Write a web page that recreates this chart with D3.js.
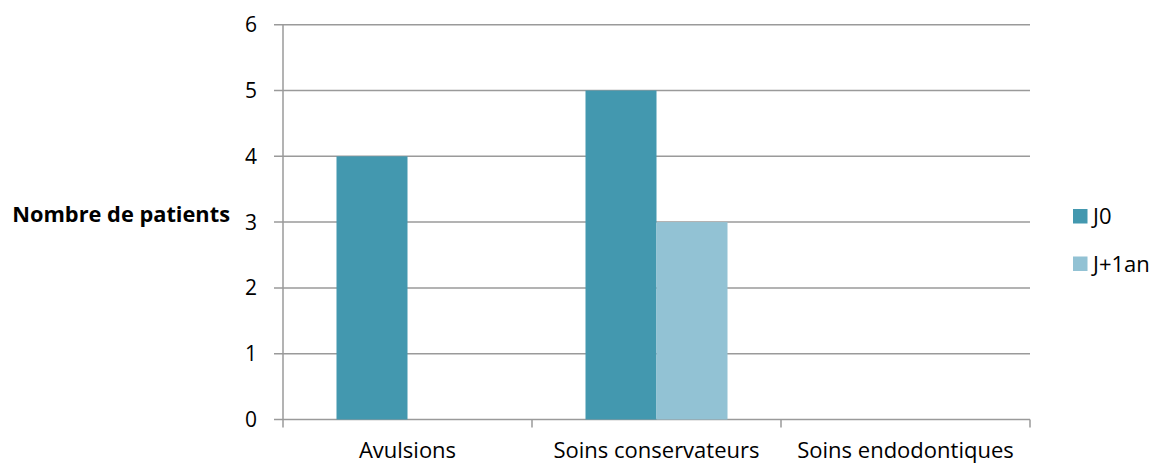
<!DOCTYPE html>
<html>
<head>
<meta charset="utf-8">
<script src="https://cdn.jsdelivr.net/npm/d3@7"></script>
<style>
  html, body { margin: 0; padding: 0; background: #fff; }
  svg { display: block; }
  text { font-family: "Open Sans", "Noto Sans", sans-serif; fill: #000; }
</style>
</head>
<body>
<svg id="chart" width="1158" height="464"></svg>
<script>
const categories = ["Avulsions", "Soins conservateurs", "Soins endodontiques"];
const seriesNames = ["J0", "J+1an"];
const valuesJ0 = [4, 5, 0];
const valuesJ1an = [0, 3, 0];
const yTicks = [0, 1, 2, 3, 4, 5, 6];
const colors = ["#4398AF", "#92C2D4"];
const yTitle = "Nombre de patients";

(function () {
const svg = d3.select("#chart");
const pLeft = 283, pRight = 1030, pTop = 24.7, pBottom = 419.5;

const x = d3.scaleBand().domain(categories).range([pLeft, pRight]).paddingInner(0).paddingOuter(0);
const inner = d3.scaleBand().domain(seriesNames).range([53.5, x.bandwidth() - 53.5]);
const y = d3.scaleLinear().domain([0, 6]).range([pBottom, pTop]);

const gridColor = "#9a9a9a";

// gridlines
svg.append("g").selectAll("line").data(yTicks).join("line")
  .attr("x1", pLeft - 9).attr("x2", pRight)
  .attr("y1", d => y(d)).attr("y2", d => y(d))
  .attr("stroke", gridColor).attr("stroke-width", 1.5);

// y axis line
svg.append("line").attr("x1", pLeft).attr("x2", pLeft).attr("y1", pTop).attr("y2", pBottom + 8)
  .attr("stroke", gridColor).attr("stroke-width", 1.5);

// x category ticks
const xTickPos = categories.map(c => x(c)).concat([pRight]);
svg.append("g").selectAll("line").data(xTickPos.slice(1)).join("line")
  .attr("x1", d => d).attr("x2", d => d).attr("y1", pBottom).attr("y2", pBottom + 8)
  .attr("stroke", gridColor).attr("stroke-width", 1.5);

// bars
const data = categories.map((c, i) => ({ cat: c, vals: [valuesJ0[i], valuesJ1an[i]] }));
const groups = svg.append("g").selectAll("g").data(data).join("g")
  .attr("transform", d => `translate(${x(d.cat)},0)`);
groups.selectAll("rect").data(d => d.vals.map((v, j) => ({ s: seriesNames[j], v, j })))
  .join("rect")
  .attr("x", d => inner(d.s)).attr("width", inner.bandwidth())
  .attr("y", d => y(d.v)).attr("height", d => y(0) - y(d.v))
  .attr("fill", d => colors[d.j]);

// y tick labels
svg.append("g").selectAll("text").data(yTicks).join("text")
  .attr("x", 257).attr("y", d => y(d)).attr("dy", "0.36em")
  .attr("text-anchor", "end").attr("font-size", 21).text(d => d);

// x labels
svg.append("g").selectAll("text").data(categories).join("text")
  .attr("x", d => x(d) + x.bandwidth() / 2).attr("y", 458)
  .attr("text-anchor", "middle").attr("font-size", 22).text(d => d);

// y title
svg.append("text").attr("x", 230).attr("y", 222).attr("text-anchor", "end")
  .attr("font-size", 21.8).attr("font-weight", "bold").text(yTitle);

// legend
const legend = svg.append("g").selectAll("g").data(seriesNames).join("g")
  .attr("transform", (d, i) => `translate(1073,${209 + i * 47.5})`);
legend.append("rect").attr("width", 14.5).attr("height", 14.5).attr("fill", (d, i) => colors[i]);
legend.append("text").attr("x", 20).attr("y", 7.5).attr("dy", "0.36em")
  .attr("font-size", 22).text(d => d);
})();
</script>
</body>
</html>
